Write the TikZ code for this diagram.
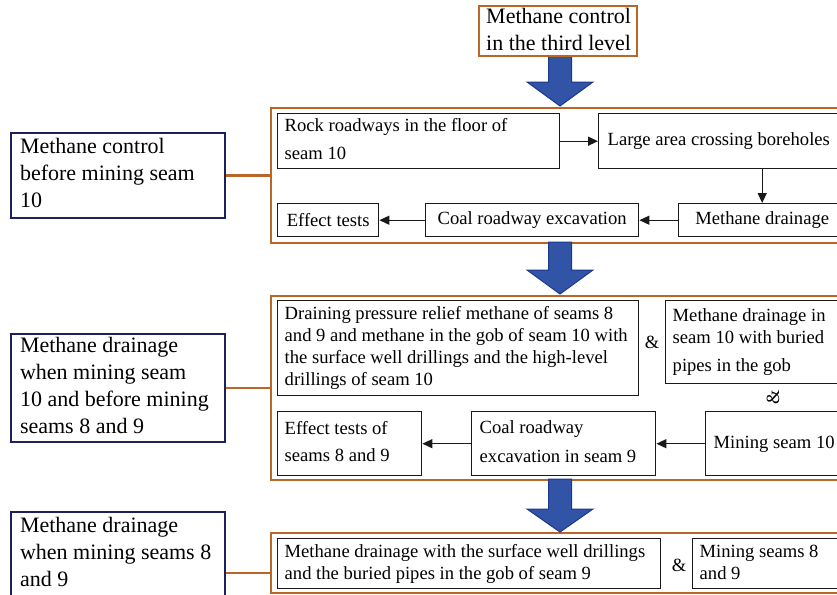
\documentclass[tikz,border=0pt]{standalone}
\usepackage{fontspec}
\setmainfont{Liberation Serif}
\usetikzlibrary{arrows.meta,calc}
\definecolor{cont}{RGB}{187,102,38}
\definecolor{navy}{RGB}{28,32,92}
\definecolor{arrfill}{RGB}{50,84,166}
\definecolor{arrline}{RGB}{30,55,135}
\definecolor{ink}{RGB}{25,25,25}
\newcommand\blockarrow[3]{%
  \filldraw[fill=arrfill,draw=arrline,line width=1pt]
    (548.5,#1) -- (571.5,#1) -- (571.5,#2) -- (593,#2) -- (560,#3) -- (527,#2) -- (548.5,#2) -- cycle;}
\newcommand\lines[2]{\makebox[#1][l]{\begin{tabular}{@{}l@{}}#2\end{tabular}}}
\begin{document}
\begin{tikzpicture}[x=1pt,y=-1pt,
  ibox/.style={draw=ink,line width=1.4pt,fill=white,anchor=north west,inner xsep=7pt,inner ysep=0pt,font=\fontsize{18.6}{22}\selectfont},
  lbox/.style={draw=navy,line width=2pt,fill=white,anchor=north west,inner xsep=9pt,inner ysep=0pt,minimum width=214pt,font=\fontsize{22}{27}\selectfont},
  obox/.style={draw=cont,line width=2.4pt,anchor=north west,inner sep=0pt},
  tbox/.style={draw=cont,line width=2.4pt,fill=white,anchor=north west,inner xsep=7pt,inner ysep=-2pt,font=\fontsize{22}{27}\selectfont},
  flow/.style={draw=ink,line width=1.4pt,-{Triangle[length=10pt,width=9pt]}},
  link/.style={draw=cont,line width=2.4pt},
  amp/.style={font=\fontsize{18.6}{22}\selectfont,inner sep=0pt}]
\useasboundingbox (0,0) rectangle (837,594);
\clip (0,0) rectangle (837,594);
\fill[white] (0,0) rectangle (837,594);

% containers
\node[obox,minimum width=580pt,minimum height=135pt] (c1) at (270,107) {};
\node[obox,minimum width=580pt,minimum height=184pt] (c2) at (270,295) {};
\node[obox,minimum width=580pt,minimum height=60pt] (c3) at (270,532) {};

% block arrows
\blockarrow{55}{82}{106}
\blockarrow{242}{270}{294}
\blockarrow{479}{509}{532}

% top box
\node[tbox,minimum width=158pt,minimum height=50pt] (top) at (478,5) {\lines{144pt}{Methane control\\in the third level}};

% left boxes
\node[lbox,minimum height=85pt] (l1) at (10,132) {\lines{196pt}{Methane control\\before mining seam\\10}};
\node[lbox,minimum height=108pt] (l2) at (10,333) {\lines{196pt}{Methane drainage\\when mining seam\\10 and before mining\\seams 8 and 9}};
\node[lbox,minimum height=85pt] (l3) at (10,511) {\lines{196pt}{Methane drainage\\when mining seams 8\\and 9}};

\draw[link] (l1.east) -- (l1.east -| c1.west);
\draw[link] (l2.east) -- (l2.east -| c2.west);
\draw[link] ([yshift=-18.5pt]l3.east) -- ([yshift=-18.5pt]l3.east -| c3.west);

% stage 1
\node[ibox,minimum width=282pt,minimum height=55pt] (rock) at (277,113) {\lines{268pt}{Rock roadways in the floor of\\[6pt]seam 10}};
\node[ibox,inner xsep=9pt,minimum width=247pt,minimum height=55pt] (large) at (598,113) {\lines{229pt}{Large area crossing boreholes}};
\node[ibox,inner xsep=0pt,minimum width=167pt,minimum height=33pt] (md1) at (678,203) {Methane drainage};
\node[ibox,inner xsep=0pt,minimum width=213pt,minimum height=33pt] (coal1) at (425,203) {Coal roadway excavation};
\node[ibox,inner xsep=0pt,minimum width=101pt,minimum height=33pt] (eff1) at (277,203) {Effect tests};
\draw[flow] (rock.east) -- (large.west);
\draw[flow] (md1.north |- large.south) -- (md1.north);
\draw[flow] (md1.west) -- (coal1.east);
\draw[flow] (coal1.west) -- (eff1.east);

% stage 2
\node[ibox,minimum width=361pt,minimum height=95pt] (drain) at (277,300) {\lines{347pt}{Draining pressure relief methane of seams 8\\and 9 and methane in the gob of seam 10 with\\the surface well drillings and the high-level\\drillings of seam 10}};
\node[amp] (a1) at (652,342) {\&};
\node[ibox,minimum width=180pt,minimum height=83pt] (mdin) at (665,300) {\lines{166pt}{Methane drainage in\\seam 10 with buried\\[6pt]pipes in the gob}};
\node[amp,rotate=90] (a2) at (773,397) {\&};
\node[ibox,minimum width=144pt,minimum height=64pt] (eff2) at (277,411) {\lines{130pt}{Effect tests of\\[5pt]seams 8 and 9}};
\node[ibox,inner xsep=8pt,minimum width=184pt,minimum height=64pt] (coal2) at (471,411) {\lines{168pt}{Coal roadway\\[7pt]excavation in seam 9}};
\node[ibox,inner xsep=8pt,minimum width=140pt,minimum height=64pt] (min10) at (705,411) {\lines{124pt}{Mining seam 10}};
\draw[flow] (min10.west) -- (coal2.east);
\draw[flow] (coal2.west) -- (eff2.east);

% stage 3
\node[ibox,minimum width=383pt,minimum height=50pt] (md3) at (277,538) {\lines{369pt}{Methane drainage with the surface well drillings\\and the buried pipes in the gob of seam 9}};
\node[amp] (a3) at (679,565) {\&};
\node[ibox,minimum width=153pt,minimum height=50pt] (ms89) at (692,538) {\lines{139pt}{Mining seams 8\\and 9}};
\end{tikzpicture}
\end{document}
